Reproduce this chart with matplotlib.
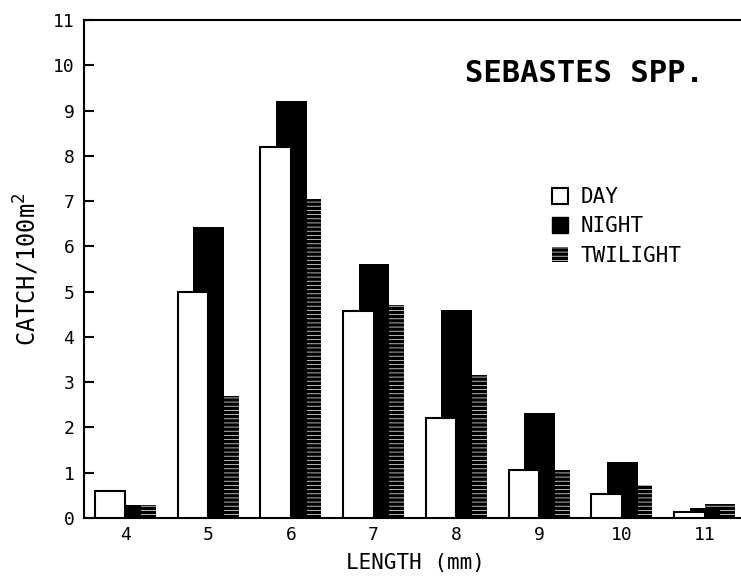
import numpy as np
import matplotlib.pyplot as plt
from matplotlib.patches import Patch

# catch per 100 m^2 by length class (mm)
lengths = [4, 5, 6, 7, 8, 9, 10, 11]
day = [0.60, 5.00, 8.20, 4.58, 2.20, 1.07, 0.52, 0.13]
night = [0.29, 6.43, 9.22, 5.60, 4.60, 2.33, 1.23, 0.21]
twilight = [0.29, 2.70, 7.05, 4.70, 3.15, 1.06, 0.73, 0.32]

plt.rcParams['font.family'] = ['DejaVu Sans Mono', 'DejaVu Sans']
plt.rcParams['hatch.linewidth'] = 0.6

fig = plt.figure(figsize=(7.41, 5.76), dpi=100)
ax = fig.add_axes([84 / 741, 58 / 576, 662 / 741, 498 / 576])

x = np.array(lengths)
w = 0.37
stripe = '#d0d0d0'
# twilight sits behind, night in the middle, day in front
ax.bar(x, twilight, width=w, align='edge', facecolor='black',
       edgecolor=stripe, hatch='----', linewidth=0, zorder=1)
ax.bar(x - 0.18, night, width=w, align='edge', color='black',
       linewidth=0, zorder=2)
ax.bar(x - w, day, width=w, align='edge', facecolor='white',
       edgecolor='black', linewidth=1.5, zorder=3)

ax.set_xlim(3.5, 11.5)
ax.set_ylim(0, 11)
ax.set_xticks(lengths)
ax.set_yticks(range(12))
ax.tick_params(axis='y', direction='in', length=7, width=1.5, pad=7, labelsize=13)
ax.tick_params(axis='x', length=0, pad=6, labelsize=13)
ax.spines['right'].set_visible(False)
for s in ['left', 'bottom', 'top']:
    ax.spines[s].set_linewidth(1.5)

ax.set_xlabel('LENGTH (mm)', fontsize=15, labelpad=6)
ax.set_ylabel('CATCH/100m$^2$', fontsize=17, labelpad=8)

fig.text(465 / 741, 1 - 73 / 576, 'SEBASTES SPP.', fontsize=22,
         fontweight='bold', va='center', ha='left')

handles = [
    Patch(facecolor='white', edgecolor='black', linewidth=1.5),
    Patch(facecolor='black', edgecolor='black'),
    Patch(facecolor='black', edgecolor=stripe, hatch='----', linewidth=0),
]
ax.legend(handles, ['DAY', 'NIGHT', 'TWILIGHT'], loc='upper left',
          bbox_to_anchor=(552 / 741, 1 - 187 / 576),
          bbox_transform=fig.transFigure, frameon=False, borderpad=0,
          borderaxespad=0, handlelength=0.77, handleheight=0.77,
          handletextpad=0.6, labelspacing=0.45, fontsize=15)

fig.savefig('out.png', dpi=100)
